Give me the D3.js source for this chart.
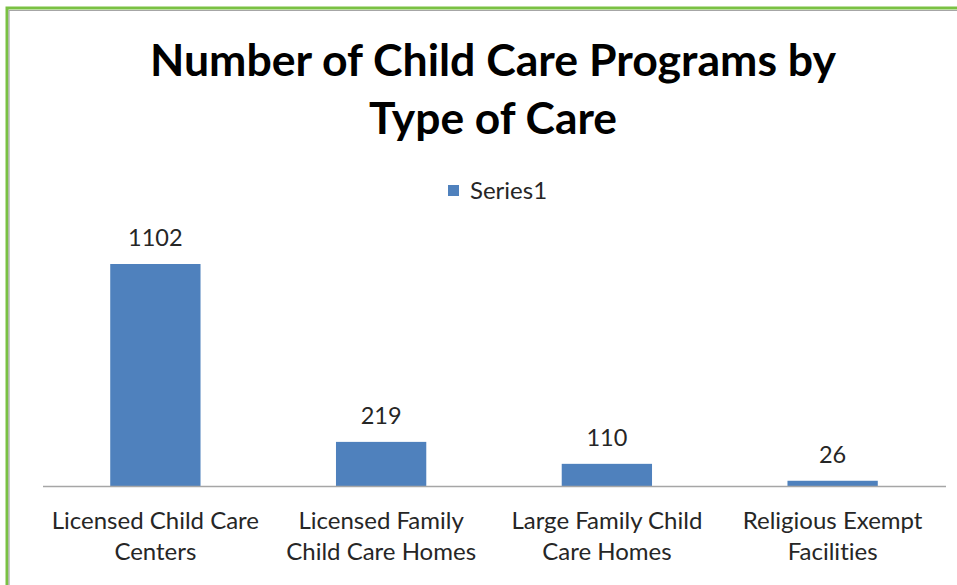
<!DOCTYPE html>
<html>
<head>
<meta charset="utf-8">
<script src="https://cdn.jsdelivr.net/npm/d3@7"></script>
<style>
  html, body { margin: 0; padding: 0; background: #fff; }
  svg { display: block; }
  text { font-family: Lato, "Open Sans", sans-serif; fill: #262626; font-variant-ligatures: none; }
</style>
</head>
<body>
<svg id="chart" width="957" height="585"></svg>
<script>
// chart data
const categories = [
  ['Licensed Child Care', 'Centers'],
  ['Licensed Family', 'Child Care Homes'],
  ['Large Family Child', 'Care Homes'],
  ['Religious Exempt', 'Facilities']
];
const values = [1102, 219, 110, 26];
const seriesName = 'Series1';
const titleLines = ['Number of Child Care Programs by', 'Type of Care'];

const width = 957, height = 585;
const color = '#4f81bd';
const plot = { left: 42.5, right: 945.5, top: 264, bottom: 486 };

const svg = d3.select('#chart');

// outer frame: green edge with a thin grey inner line
svg.append('rect')
  .attr('x', 7).attr('y', 8)
  .attr('width', width).attr('height', height)
  .attr('fill', 'none')
  .attr('stroke', '#7ac143')
  .attr('stroke-width', 3);
svg.append('path')
  .attr('d', `M9,${height} V10.5 H${width}`)
  .attr('fill', 'none')
  .attr('stroke', '#a6a6a6')
  .attr('stroke-width', 1.2);

// title
const titleWidths = [686, 248];
svg.append('g').selectAll('text')
  .data(titleLines)
  .join('text')
  .attr('x', 493)
  .attr('y', (d, i) => 76 + i * 58)
  .attr('text-anchor', 'middle')
  .attr('font-size', 43)
  .attr('font-weight', 'bold')
  .attr('textLength', (d, i) => titleWidths[i])
  .attr('lengthAdjust', 'spacingAndGlyphs')
  .style('fill', '#000')
  .text(d => d);

// legend
const legend = svg.append('g').attr('transform', 'translate(448,185)');
legend.append('rect')
  .attr('width', 11).attr('height', 11)
  .attr('fill', color);
legend.append('text')
  .attr('x', 22).attr('y', 14)
  .attr('font-size', 24)
  .text(seriesName);

// scales
const x = d3.scaleBand()
  .domain(d3.range(values.length))
  .range([plot.left, plot.right])
  .paddingInner(0.6)
  .paddingOuter(0.3);

const y = d3.scaleLinear()
  .domain([0, 1102])
  .range([plot.bottom, plot.top]);

// bars
svg.append('g').selectAll('rect')
  .data(values)
  .join('rect')
  .attr('x', (d, i) => x(i))
  .attr('y', d => y(d))
  .attr('width', x.bandwidth())
  .attr('height', d => y(0) - y(d))
  .attr('fill', color);

// data labels
svg.append('g').selectAll('text')
  .data(values)
  .join('text')
  .attr('x', (d, i) => x(i) + x.bandwidth() / 2)
  .attr('y', d => y(d) - 18)
  .attr('text-anchor', 'middle')
  .attr('font-size', 23.5)
  .text(d => d);

// x axis line
const xAxis = d3.axisBottom(x).tickSize(0).tickFormat('');
const axisG = svg.append('g')
  .attr('transform', `translate(0,${plot.bottom})`)
  .call(xAxis);
axisG.select('.domain').attr('stroke', '#a6a6a6').attr('stroke-width', 1.3);

// category labels (two lines each)
const catG = svg.append('g').selectAll('text')
  .data(categories)
  .join('text')
  .attr('x', (d, i) => x(i) + x.bandwidth() / 2)
  .attr('text-anchor', 'middle')
  .attr('font-size', 24);
catG.selectAll('tspan')
  .data(d => d)
  .join('tspan')
  .attr('x', function () { return this.parentNode.getAttribute('x'); })
  .attr('y', (d, i) => 529 + i * 31)
  .text(d => d);
</script>
</body>
</html>
